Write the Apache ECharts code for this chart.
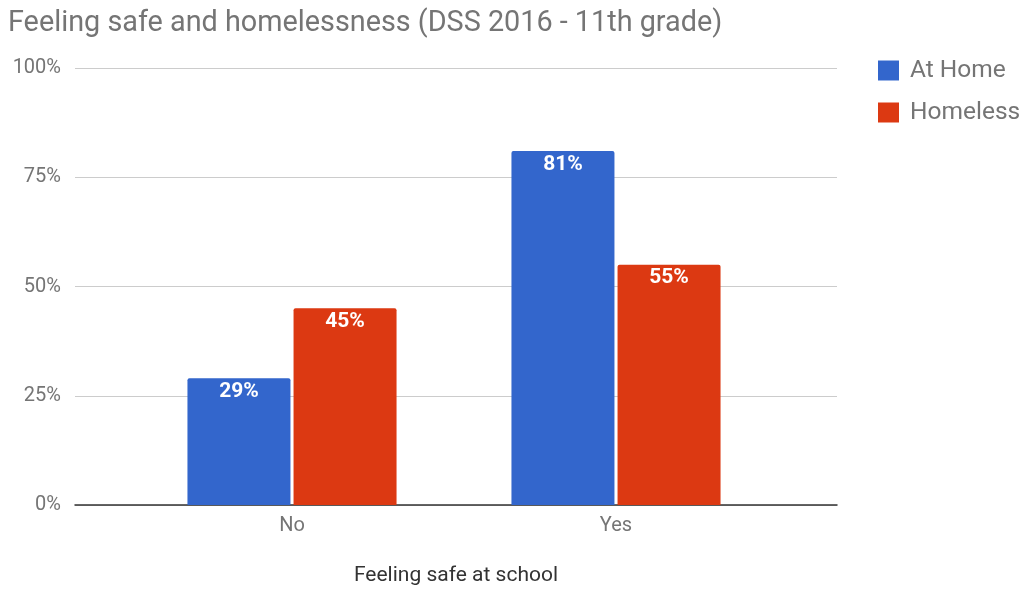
<!DOCTYPE html>
<html>
<head>
<meta charset="utf-8">
<script src="https://cdn.jsdelivr.net/npm/echarts@6/dist/echarts.min.js"></script>
<style>html,body{margin:0;padding:0;background:#fff;}#c{width:1025px;height:590px;}</style>
</head>
<body>
<div id="c"></div>
<script>
var categories = ['No', 'Yes'];
var atHome = [29, 81];
var homeless = [45, 55];
var yTicks = [0, 25, 50, 75, 100];
var title = 'Feeling safe and homelessness (DSS 2016 - 11th grade)';
var xName = 'Feeling safe at school';

var chart = echarts.init(document.getElementById('c'));
var font = 'Roboto, "Noto Sans", sans-serif';
var gray = '#757575';
chart.setOption({
  animation: false,
  backgroundColor: '#fff',
  textStyle: {fontFamily: font},
  title: {
    text: title, left: 3, top: 4,
    textStyle: {fontFamily: font, fontSize: 28.8, fontWeight: 'normal', color: gray}
  },
  legend: {
    orient: 'vertical', left: 873, top: 53, itemGap: 17,
    itemWidth: 21, itemHeight: 20, icon: 'rect',
    textStyle: {fontFamily: font, fontSize: 24.5, color: gray, padding: [0, 0, 0, 6]},
    data: ['At Home', 'Homeless']
  },
  grid: [
    {left: 75, right: 188, top: 68, bottom: 85, outerBoundsMode: 'none', containLabel: false},
    {left: 130, right: 247, top: 68, bottom: 85, outerBoundsMode: 'none', containLabel: false}
  ],
  xAxis: [
    {
      gridIndex: 0, type: 'category', data: ['', ''],
      axisLine: {show: true, lineStyle: {color: '#333', width: 1.5}},
      axisTick: {show: false}, axisLabel: {show: false},
      name: xName, nameLocation: 'middle', nameGap: 60,
      nameTextStyle: {fontFamily: font, fontSize: 21, color: '#333'}
    },
    {
      gridIndex: 1, type: 'category', data: categories,
      axisLine: {show: false}, axisTick: {show: false},
      axisLabel: {fontFamily: font, fontSize: 20, color: gray, margin: 11}
    }
  ],
  yAxis: [
    {
      gridIndex: 0, type: 'value', min: yTicks[0], max: yTicks[yTicks.length - 1], interval: 25,
      axisLine: {show: false}, axisTick: {show: false},
      axisLabel: {formatter: '{value}%', fontFamily: font, fontSize: 20, color: gray, margin: 14},
      splitLine: {lineStyle: {color: '#cccccc', width: 1}}
    },
    {
      gridIndex: 1, type: 'value', min: 0, max: 100, interval: 25, show: false,
      splitLine: {show: false}
    }
  ],
  series: [
    {
      name: 'At Home', type: 'bar', xAxisIndex: 1, yAxisIndex: 1, data: atHome,
      barWidth: 103, barGap: '3%',
      itemStyle: {color: '#3366CC', borderRadius: [2, 2, 0, 0]},
      label: {show: true, position: 'insideTop', distance: 3, formatter: '{c}%',
        color: '#fff', fontWeight: 'bold', fontSize: 21, fontFamily: font}
    },
    {
      name: 'Homeless', type: 'bar', xAxisIndex: 1, yAxisIndex: 1, data: homeless,
      barWidth: 103, barGap: '3%',
      itemStyle: {color: '#DC3912', borderRadius: [2, 2, 0, 0]},
      label: {show: true, position: 'insideTop', distance: 3, formatter: '{c}%',
        color: '#fff', fontWeight: 'bold', fontSize: 21, fontFamily: font}
    }
  ]
});
</script>
</body>
</html>
